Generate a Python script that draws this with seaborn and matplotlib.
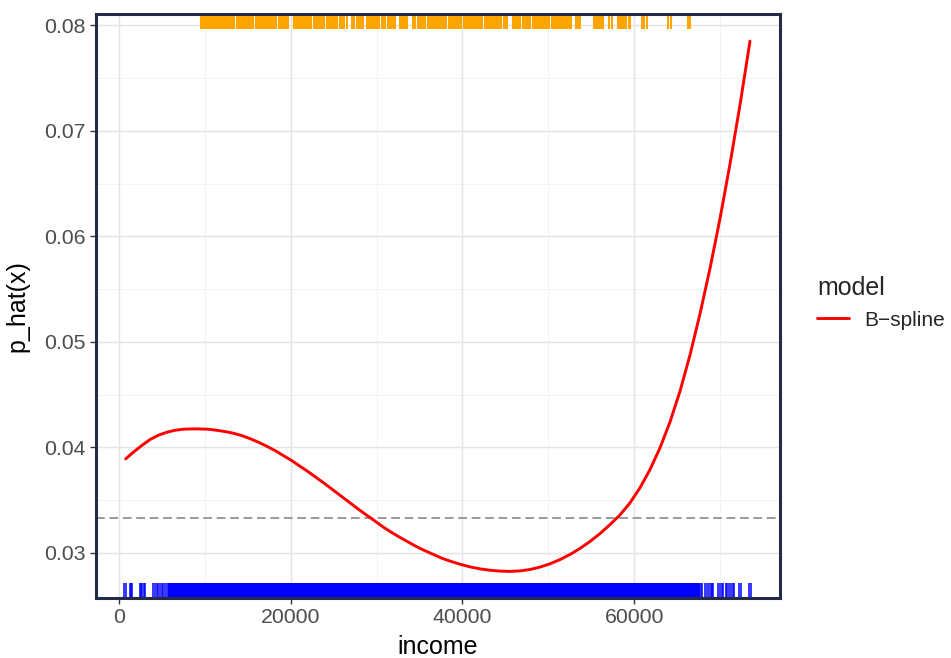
import numpy as np
import pandas as pd
import matplotlib
matplotlib.use("Agg")
import matplotlib.pyplot as plt
import seaborn as sns

# ---------------- data ----------------
curve_income = [777, 1669, 2640, 3611, 4581, 5552, 6523, 7493, 8464, 9240,
                10405, 11376, 12347, 13317, 14289, 15259, 16230, 17201, 18171,
                19142, 20113, 21083, 22054, 23025, 23995, 24966, 25937, 26907,
                27878, 28849, 29820, 30790, 31761, 32732, 33702, 34673, 35644,
                36614, 37585, 38556, 39720, 40890, 42050, 43220, 44380, 45540,
                46710, 47870, 49040, 50200, 51370, 52540, 53700, 54870, 56030,
                57190, 58350, 59520, 60690, 61850, 63020, 64180, 65350, 66510,
                67680, 68840, 70010, 71170, 72340, 73500]
curve_p = [0.03890, 0.03953, 0.04016, 0.04073, 0.04114, 0.04142, 0.04161,
           0.04171, 0.04174, 0.04174, 0.04171, 0.04161, 0.04149, 0.04133,
           0.04111, 0.04082, 0.04048, 0.04010, 0.03969, 0.03921, 0.03874,
           0.03820, 0.03767, 0.03710, 0.03653, 0.03593, 0.03533, 0.03473,
           0.03413, 0.03356, 0.03300, 0.03243, 0.03192, 0.03145, 0.03101,
           0.03057, 0.03019, 0.02984, 0.02949, 0.02921, 0.02891, 0.02866,
           0.02847, 0.02834, 0.02826, 0.02823, 0.02828, 0.02841, 0.02864,
           0.02895, 0.02935, 0.02984, 0.03041, 0.03107, 0.03182, 0.03266,
           0.03358, 0.03473, 0.03616, 0.03788, 0.03995, 0.04239, 0.04532,
           0.04874, 0.05266, 0.05695, 0.06169, 0.06685, 0.07247, 0.07850]

base_rate = 0.0333

# incomes of defaulters (top rug, orange)
rug_default = [
    9510, 9650, 9830, 9970, 10140, 10380, 10530, 10720, 10900, 11000, 11200, 11370,
    11500, 11740, 11990, 12230, 12480, 12720, 12960, 13210, 13450, 13700, 13940,
    14190, 14430, 14680, 14920, 15160, 15410, 15650, 15900, 16140, 16390, 16630,
    16870, 17120, 17360, 17610, 17850, 18100, 18340, 18580, 18830, 19070, 19320,
    19560, 19710, 20390, 20630, 20880, 21120, 21360, 21460, 21680, 21920, 22170,
    22410, 22660, 22900, 23150, 23390, 23640, 23880, 24180, 24390, 24600, 24760,
    24970, 25210, 25450, 25700, 25850, 25950, 26200, 26510, 27190, 27430, 27680,
    27920, 28170, 28450, 28860, 29100, 29350, 29610, 29830, 30070, 30320, 30590,
    30800, 31040, 31290, 31530, 31780, 32020, 32140, 32740, 32990, 33130, 33370,
    33500, 34290, 34530, 34780, 35020, 35250, 35460, 35700, 35950, 36220, 36430,
    36670, 36920, 37160, 37410, 37650, 37900, 38140, 38390, 38630, 38880, 39120,
    39370, 39510, 39650, 39890, 40140, 40380, 40630, 40870, 41120, 41360, 41610,
    41850, 42100, 42340, 42590, 42830, 43080, 43320, 43570, 43810, 44060, 44300,
    44550, 44790, 45040, 45150, 45940, 46180, 46380, 46520, 46760, 47010, 47250,
    47400, 47690, 47930, 48180, 48420, 48670, 48910, 49160, 49400, 49650, 49890,
    50140, 50380, 50630, 50780, 50990, 51230, 51480, 51720, 51970, 52210, 52460,
    52640, 53210, 53450, 53690, 55310, 55550, 55790, 56010, 56250, 56390, 57110,
    57390, 58110, 58350, 58590, 58800, 59110, 59350, 59490, 60910, 61150, 61490,
    63970, 64290, 66310, 66490]

# incomes of non-defaulters (bottom rug, blue): sparse tails and the dense core
rug_nodefault_tails = [
    620, 780, 1280, 1400, 1510, 2410, 2550, 2700, 2870, 3030, 4000, 4190, 4430,
    4580, 4780, 4970, 5160, 5360, 5560, 67740, 67900, 68260, 68450, 68760, 68920,
    69080, 69230, 69810, 70000, 70240, 70390, 70700, 70820, 71090, 71250, 71560,
    71670, 72260, 72410, 73420, 73600]
rug_nodefault_core = [
    6200, 6700, 7200, 7700, 8200, 8700, 9200, 9700, 10200, 10700, 11200, 11700,
    12200, 12700, 13200, 13700, 14200, 14700, 15200, 15700, 16200, 16700, 17200,
    17700, 18200, 18700, 19200, 19700, 20200, 20700, 21200, 21700, 22200, 22700,
    23200, 23700, 24200, 24700, 25200, 25700, 26200, 26700, 27200, 27700, 28200,
    28700, 29200, 29700, 30200, 30700, 31200, 31700, 32200, 32700, 33200, 33700,
    34200, 34700, 35200, 35700, 36200, 36700, 37200, 37700, 38200, 38700, 39200,
    39700, 40200, 40700, 41200, 41700, 42200, 42700, 43200, 43700, 44200, 44700,
    45200, 45700, 46200, 46700, 47200, 47700, 48200, 48700, 49200, 49700, 50200,
    50700, 51200, 51700, 52200, 52700, 53200, 53700, 54200, 54700, 55200, 55700,
    56200, 56700, 57200, 57700, 58200, 58700, 59200, 59700, 60200, 60700, 61200,
    61700, 62200, 62700, 63200, 63700, 64200, 64700, 65200, 65700, 66200, 66700,
    67200]

x_ticks = [0, 20000, 40000, 60000]
y_ticks = [0.03, 0.04, 0.05, 0.06, 0.07, 0.08]
x_minor = [10000, 30000, 50000, 70000]
y_minor = [0.035, 0.045, 0.055, 0.065, 0.075]

model_label = "B\u2212spline"

# ---------------- styling ----------------
sns.set_style("white")
plt.rcParams["font.family"] = ["Liberation Sans", "DejaVu Sans"]

W, H, DPI = 951, 658, 100
fig = plt.figure(figsize=(W / DPI, H / DPI), dpi=DPI)
left, right, top, bottom = 95.5, 779.5, 13.5, 598.0
ax = fig.add_axes([left / W, 1 - bottom / H, (right - left) / W, (bottom - top) / H])

df = pd.DataFrame({"income": curve_income, "p_hat": curve_p,
                   "model": model_label})

# grid
for v in x_minor:
    ax.axvline(v, color="#f0f0f0", lw=0.55, zorder=0)
for v in y_minor:
    ax.axhline(v, color="#f0f0f0", lw=0.55, zorder=0)
for v in x_ticks:
    ax.axvline(v, color="#e4e4e4", lw=1.0, zorder=0)
for v in y_ticks:
    ax.axhline(v, color="#e4e4e4", lw=1.0, zorder=0)

ax.axhline(base_rate, color="#9a9a9a", lw=1.4, ls=(0, (4.5, 2.4)), zorder=1)

sns.lineplot(data=df, x="income", y="p_hat", hue="model", palette=["#ff0000"],
             lw=2.1, ax=ax, zorder=3)

rug_h = 0.026
sns.rugplot(x=rug_nodefault_core, height=rug_h, color="#0000ff", linewidth=6.0,
            ax=ax, expand_margins=False, zorder=2)
sns.rugplot(x=rug_nodefault_tails, height=rug_h, color="#0000ff", linewidth=1.1,
            ax=ax, expand_margins=False, zorder=2)
ax.vlines(rug_default, 1 - rug_h, 1, transform=ax.get_xaxis_transform(),
          color="#ffa500", lw=1.5, zorder=2)

px_per_unit = 8.585e-3
ax.set_xlim(-(119 - left) / px_per_unit, (right - 119) / px_per_unit)
ax.set_ylim(0.02571, 0.08112)

ax.set_xticks(x_ticks)
ax.set_xticklabels([str(v) for v in x_ticks])
ax.set_yticks(y_ticks)
ax.set_yticklabels([f"{v:.2f}" for v in y_ticks])
ax.tick_params(axis="both", which="major", length=4, width=1.0, color="#333333",
               labelsize=15.3, labelcolor="#4d4d4d", pad=3, direction="out",
               bottom=True, left=True)

for s in ax.spines.values():
    s.set_color("#232b45")
    s.set_linewidth(2.2)
    s.set_zorder(5)

ax.set_xlabel("income", fontsize=18, color="black", labelpad=6)
ax.set_ylabel("p_hat(x)", fontsize=18, color="black", labelpad=11)

leg = ax.legend(title="model", loc="upper left",
                bbox_to_anchor=(809 / W, 1 - 268 / H),
                bbox_transform=fig.transFigure, frameon=False,
                fontsize=15, title_fontsize=18, handlelength=1.5,
                handletextpad=0.75, borderaxespad=0, labelspacing=0.5)
leg._legend_box.align = "left"

fig.savefig("out.png", dpi=DPI)
